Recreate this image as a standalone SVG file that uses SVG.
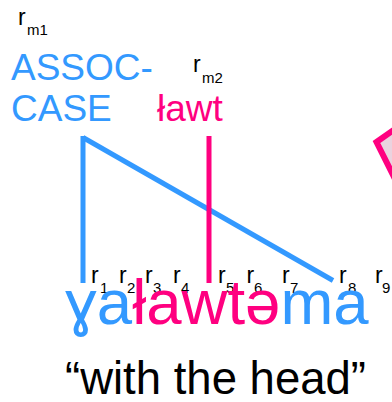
<svg xmlns="http://www.w3.org/2000/svg" width="392" height="402" viewBox="0 0 392 402">
  <style>
    text { font-family: "Liberation Sans", Arial, sans-serif; }
    .blue { fill: #3399FF; }
    .pink { fill: #FF0080; }
    .ink { fill: #000000; }
    .r { font-size: 23px; }
    .sub { font-size: 15px; }
    .gloss { font-size: 37px; }
    .word { font-size: 63.5px; }
    .trans { font-size: 45.5px; }
    .assoc { stroke: #3399FF; stroke-width: 5; fill: none; }
    .root { stroke: #FF0080; stroke-width: 5; fill: none; }
  </style>

  <!-- marker shape at the right edge -->
  <g id="marker-shape">
    <polygon points="376.5,142 420,111.5 440,200 400,189" fill="#EAD3DF" stroke="#FF0080" stroke-width="6" stroke-linejoin="miter"/>
  </g>

  <!-- association lines -->
  <g id="connectors">
    <line class="assoc" x1="83" y1="136" x2="83" y2="283"/>
    <line class="assoc" x1="83" y1="137.5" x2="333" y2="280.5"/>
    <line class="root" x1="209" y1="136" x2="209" y2="283"/>
  </g>

  <!-- affix morpheme -->
  <g id="node-rm1">
    <text class="r ink" x="18" y="25">r</text>
    <text class="sub ink" x="27" y="35">m1</text>
    <text class="gloss blue" x="11" y="80">ASSOC-</text>
    <text class="gloss blue" x="11" y="121">CASE</text>
  </g>

  <!-- root morpheme -->
  <g id="node-rm2">
    <text class="r ink" x="193" y="72">r</text>
    <text class="sub ink" x="202" y="83">m2</text>
    <text class="gloss pink" x="157" y="121">ławt</text>
  </g>

  <!-- root nodes r1..r9 -->
  <g id="node-roots">
    <text class="r ink" x="91" y="283">r</text><text class="sub ink" x="100" y="293">1</text>
    <text class="r ink" x="119" y="283">r</text><text class="sub ink" x="127" y="293">2</text>
    <text class="r ink" x="145" y="283">r</text><text class="sub ink" x="153" y="293">3</text>
    <text class="r ink" x="173" y="283">r</text><text class="sub ink" x="181" y="293">4</text>
    <text class="r ink" x="218" y="283">r</text><text class="sub ink" x="226" y="293">5</text>
    <text class="r ink" x="246.5" y="283">r</text><text class="sub ink" x="254" y="293">6</text>
    <text class="r ink" x="282" y="283">r</text><text class="sub ink" x="290" y="293">7</text>
    <text class="r ink" x="339" y="283">r</text><text class="sub ink" x="348" y="293">8</text>
    <text class="r ink" x="375" y="283">r</text><text class="sub ink" x="382" y="293">9</text>
  </g>

  <!-- surface word -->
  <g id="node-word">
    <text class="word" x="65" y="324"><tspan class="blue">ɣa</tspan><tspan class="pink">ławtə</tspan><tspan class="blue">ma</tspan></text>
  </g>

  <!-- translation -->
  <g id="node-gloss">
    <text class="trans ink" x="65" y="394">“with the head”</text>
  </g>
</svg>
